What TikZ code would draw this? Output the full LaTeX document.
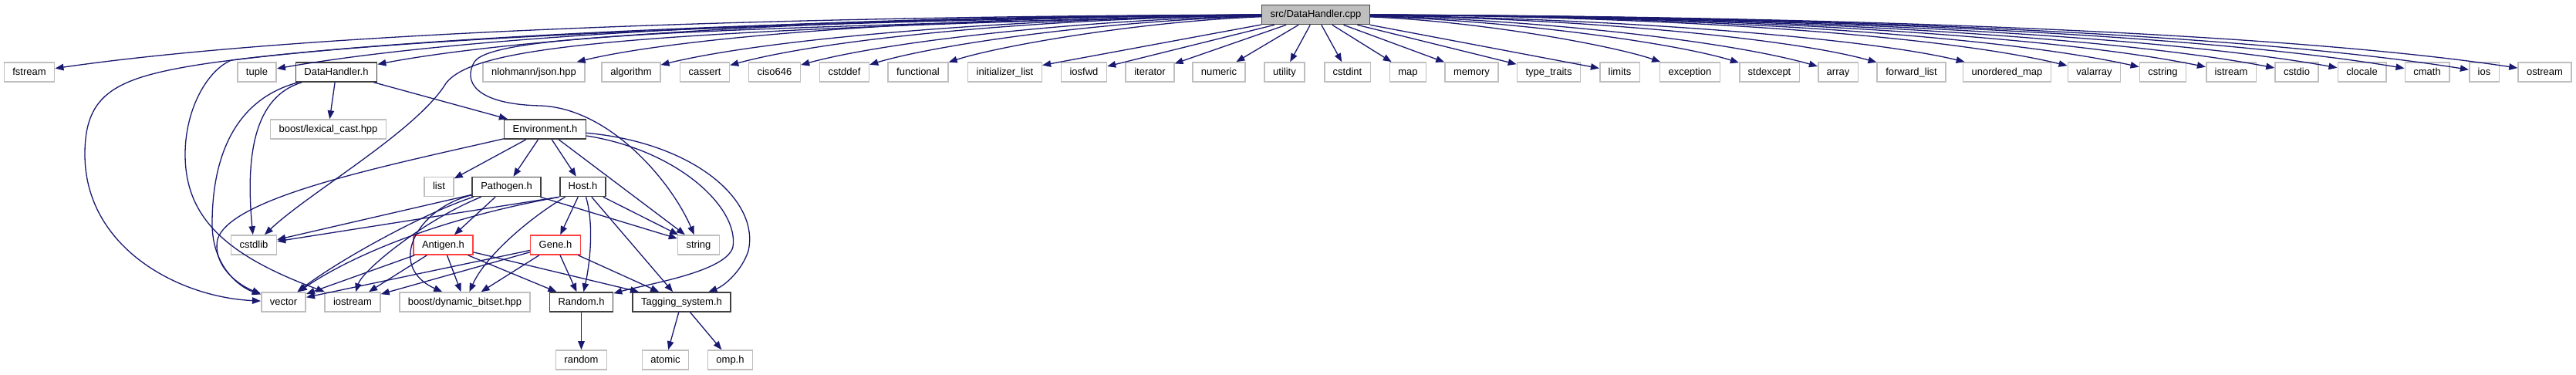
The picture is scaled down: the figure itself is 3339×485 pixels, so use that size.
\documentclass[tikz,border=0pt]{standalone}
\usepackage{fontspec}
\setmainfont{Liberation Sans}
\usepackage{xcolor}
\usepackage{tikz}
\usetikzlibrary{arrows.meta}
\definecolor{edgeblue}{HTML}{191970}
\definecolor{extgray}{HTML}{BFBFBF}
\definecolor{docgray}{HTML}{404040}
\definecolor{truncred}{HTML}{FF4040}

\begin{document}
\begin{tikzpicture}[x=1pt,y=-1pt,>={Triangle[length=11pt,width=8.5pt]},
  box/.style={draw,rectangle,line width=1.6pt,minimum height=25pt,inner xsep=11pt,inner ysep=0pt,text height=10pt,text depth=3pt,font=\fontsize{13}{15}\selectfont,fill=white},
  ext/.style={box,draw=extgray},
  doc/.style={box,draw=docgray},
  trunc/.style={box,draw=truncred},
  root/.style={box,draw=docgray,fill=extgray},
  inc/.style={->,edgeblue,line width=1.3pt}]
  \useasboundingbox (0,0) rectangle (3339,485);
  \node[root] (cpp) at (1705.5,19) {src/DataHandler.cpp};
  \node[ext] (fstream) at (38,93.5) {fstream};
  \node[ext] (tuple) at (333,93.5) {tuple};
  \node[doc] (dhh) at (436,93.5) {DataHandler.h};
  \node[ext] (json) at (692,93.5) {nlohmann/json.hpp};
  \node[ext] (algorithm) at (818,93.5) {algorithm};
  \node[ext] (cassert) at (913.5,93.5) {cassert};
  \node[ext] (ciso) at (1004,93.5) {ciso646};
  \node[ext] (cstddef) at (1094.5,93.5) {cstddef};
  \node[ext] (functional) at (1190,93.5) {functional};
  \node[ext] (initlist) at (1302.5,93.5) {initializer\_list};
  \node[ext] (iosfwd) at (1405,93.5) {iosfwd};
  \node[ext] (iterator) at (1490.5,93.5) {iterator};
  \node[ext] (numeric) at (1580,93.5) {numeric};
  \node[ext] (utility) at (1665,93.5) {utility};
  \node[ext] (cstdint) at (1746.5,93.5) {cstdint};
  \node[ext] (map) at (1825,93.5) {map};
  \node[ext] (memory) at (1907.5,93.5) {memory};
  \node[ext] (typetraits) at (2007.5,93.5) {type\_traits};
  \node[ext] (limits) at (2099.5,93.5) {limits};
  \node[ext] (exception) at (2190.5,93.5) {exception};
  \node[ext] (stdexcept) at (2293.5,93.5) {stdexcept};
  \node[ext] (array) at (2382.5,93.5) {array};
  \node[ext] (fwdlist) at (2477.5,93.5) {forward\_list};
  \node[ext] (umap) at (2601.5,93.5) {unordered\_map};
  \node[ext] (valarray) at (2714.5,93.5) {valarray};
  \node[ext] (cstring) at (2803.5,93.5) {cstring};
  \node[ext] (istream) at (2892,93.5) {istream};
  \node[ext] (cstdio) at (2977,93.5) {cstdio};
  \node[ext] (clocale) at (3061.5,93.5) {clocale};
  \node[ext] (cmath) at (3146,93.5) {cmath};
  \node[ext] (ios) at (3220,93.5) {ios};
  \node[ext] (ostream) at (3298.5,93.5) {ostream};
  \node[ext] (lexcast) at (425.5,167.5) {boost/lexical\_cast.hpp};
  \node[doc] (env) at (706.5,167.5) {Environment.h};
  \node[ext] (list) at (569,242) {list};
  \node[doc] (pat) at (656.5,242) {Pathogen.h};
  \node[doc] (host) at (755.5,242) {Host.h};
  \node[ext] (cstdlib) at (329,317.5) {cstdlib};
  \node[trunc] (antigen) at (574.5,317.5) {Antigen.h};
  \node[trunc] (gene) at (720,317.5) {Gene.h};
  \node[ext] (string) at (905.5,317.5) {string};
  \node[ext] (vector) at (367.5,391.5) {vector};
  \node[ext] (iostream) at (457,391.5) {iostream};
  \node[ext] (bitset) at (602.5,391.5) {boost/dynamic\_bitset.hpp};
  \node[doc] (rnd) at (753.5,391.5) {Random.h};
  \node[doc] (tag) at (883.5,391.5) {Tagging\_system.h};
  \node[ext] (random) at (753.5,466.5) {random};
  \node[ext] (atomic) at (862.5,466.5) {atomic};
  \node[ext] (omp) at (946.5,466.5) {omp.h};
  \draw[inc] (cpp) .. controls (955,21) and (372,45) .. (fstream);
  \draw[inc] (cpp) .. controls (1088,21) and (608,45) .. (tuple);
  \draw[inc] (cpp) .. controls (1134,21) and (690,45) .. (dhh);
  \draw[inc] (cpp) .. controls (1249,21) and (895,45) .. (json);
  \draw[inc] (cpp) .. controls (1306,24) and (996,50) .. (algorithm);
  \draw[inc] (cpp) .. controls (1349,24) and (1072,50) .. (cassert);
  \draw[inc] (cpp) .. controls (1390,26) and (1144,55) .. (ciso);
  \draw[inc] (cpp) .. controls (1431,27) and (1217,57) .. (cstddef);
  \draw[inc] (cpp) .. controls (1474,28) and (1293,60) .. (functional);
  \draw[inc] (cpp) -- (initlist);
  \draw[inc] (cpp) -- (iosfwd);
  \draw[inc] (cpp) -- (iterator);
  \draw[inc] (cpp) -- (numeric);
  \draw[inc] (cpp) -- (utility);
  \draw[inc] (cpp) -- (cstdint);
  \draw[inc] (cpp) -- (map);
  \draw[inc] (cpp) -- (memory);
  \draw[inc] (cpp) -- (typetraits);
  \draw[inc] (cpp) -- (limits);
  \draw[inc] (cpp) .. controls (1924,28) and (2094,60) .. (exception);
  \draw[inc] (cpp) .. controls (1970,27) and (2176,57) .. (stdexcept);
  \draw[inc] (cpp) .. controls (2010,26) and (2247,55) .. (array);
  \draw[inc] (cpp) .. controls (2053,24) and (2323,50) .. (fwdlist);
  \draw[inc] (cpp) .. controls (2109,24) and (2422,50) .. (umap);
  \draw[inc] (cpp) .. controls (2160,21) and (2513,45) .. (valarray);
  \draw[inc] (cpp) .. controls (2200,21) and (2584,45) .. (cstring);
  \draw[inc] (cpp) .. controls (2239,21) and (2655,45) .. (istream);
  \draw[inc] (cpp) .. controls (2278,21) and (2723,45) .. (cstdio);
  \draw[inc] (cpp) .. controls (2316,21) and (2790,45) .. (clocale);
  \draw[inc] (cpp) .. controls (2354,21) and (2858,45) .. (cmath);
  \draw[inc] (cpp) .. controls (2387,21) and (2917,45) .. (ios);
  \draw[inc] (cpp) .. controls (2422,21) and (2980,45) .. (ostream);
  \draw[inc] (cpp.west) .. controls (1000,25) and (500,50) .. (270,82) .. controls (150,100) and (110,120) .. (110,200) .. controls (110,320) and (230,385) .. (vector);
  \draw[inc] (cpp.west) .. controls (1000,28) and (520,50) .. (300,78) .. controls (270,90) and (240,140) .. (240,200) .. controls (240,280) and (290,330) .. (iostream);
  \draw[inc] (cpp.west) .. controls (800,40) and (615,60) .. (578,108) .. controls (540,170) and (400,250) .. (cstdlib);
  \draw[inc] (cpp.west) .. controls (900,38) and (640,45) .. (615,80) .. controls (600,105) and (615,135) .. (700,137) .. controls (790,140) and (870,235) .. (string);
  \draw[inc] (dhh) -- (lexcast);
  \draw[inc] (dhh) -- (env);
  \draw[inc] (dhh) .. controls (330,125) and (318,200) .. (cstdlib);
  \draw[inc] (dhh) .. controls (300,130) and (275,210) .. (275,290) .. controls (275,345) and (310,372) .. (vector);
  \draw[inc] (env) .. controls (500,215) and (300,255) .. (282,310) .. controls (275,345) and (310,370) .. (vector);
  \draw[inc] (env) -- (list);
  \draw[inc] (env) -- (pat);
  \draw[inc] (env) -- (host);
  \draw[inc] (env) -- (string);
  \draw[inc] (env) .. controls (880,195) and (958,270) .. (950,320) .. controls (942,352) and (840,368) .. (rnd);
  \draw[inc] (env) .. controls (900,185) and (985,260) .. (970,325) .. controls (962,350) and (940,370) .. (tag);
  \draw[inc] (pat) -- (cstdlib);
  \draw[inc] (pat) .. controls (560,272) and (450,330) .. (vector);
  \draw[inc] (pat) .. controls (550,285) and (470,350) .. (iostream);
  \draw[inc] (pat) .. controls (540,270) and (500,345) .. (bitset);
  \draw[inc] (pat) -- (antigen);
  \draw[inc] (pat) -- (string);
  \draw[inc] (host.south west) -- (cstdlib);
  \draw[inc] (host.south west) .. controls (560,285) and (450,335) .. (vector);
  \draw[inc] (host) .. controls (690,280) and (630,330) .. (bitset);
  \draw[inc] (host) -- (gene);
  \draw[inc] (host) .. controls (770,290) and (765,340) .. (rnd);
  \draw[inc] (host) -- (tag);
  \draw[inc] (host) -- (string);
  \draw[inc] (antigen) -- (vector);
  \draw[inc] (antigen) -- (iostream);
  \draw[inc] (antigen) -- (bitset);
  \draw[inc] (antigen) -- (rnd);
  \draw[inc] (antigen) -- (tag);
  \draw[inc] (gene) -- (vector);
  \draw[inc] (gene) -- (iostream);
  \draw[inc] (gene) -- (bitset);
  \draw[inc] (gene) -- (rnd);
  \draw[inc] (gene) -- (tag);
  \draw[inc] (rnd) -- (random);
  \draw[inc] (tag) -- (atomic);
  \draw[inc] (tag) -- (omp);
\end{tikzpicture}
\end{document}
